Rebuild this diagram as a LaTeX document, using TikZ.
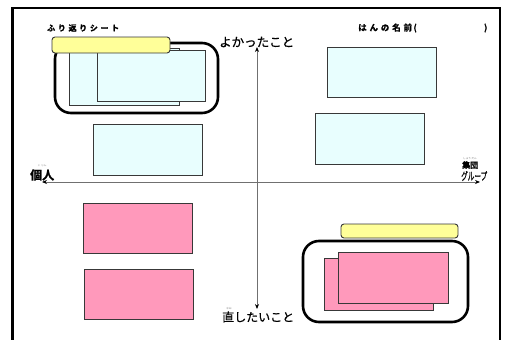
\documentclass[tikz,border=0pt]{standalone}
\usepackage{fontspec}
\setmainfont{Noto Sans CJK JP}
\newfontfamily\jpb[FakeBold=1.6]{Noto Sans CJK JP Bold}
\newfontfamily\jp{Noto Sans CJK JP}
\newfontfamily\jpm[FakeBold=0.6]{Noto Sans CJK JP}
\usetikzlibrary{arrows.meta}
\definecolor{cardblue}{HTML}{E8FEFE}
\definecolor{cardpink}{HTML}{FF99BB}
\definecolor{tagyellow}{HTML}{FFFF99}
\definecolor{axisgray}{HTML}{707070}
\definecolor{edgegray}{HTML}{383838}
\tikzset{
  card/.style={draw=edgegray, line width=0.9pt},
  bluecard/.style={card, fill=cardblue},
  pinkcard/.style={card, fill=cardpink},
  tag/.style={draw=edgegray, line width=0.9pt, fill=tagyellow, rounded corners=3pt},
  group/.style={draw=black, line width=2.6pt, rounded corners=16pt},
  axis/.style={draw=axisgray, line width=0.8pt, {Stealth[length=5pt,width=4pt,color=black]}-{Stealth[length=5pt,width=4pt,color=black]}},
  lbl/.style={inner sep=0pt, anchor=west},
  ruby/.style={inner sep=0pt, font=\jp\fontsize{2.6}{3}\selectfont, text=gray}
}
\begin{document}
\begin{tikzpicture}[x=1pt,y=-1pt]
\useasboundingbox[fill=white] (0,0) rectangle (507,340);
% frame
\draw[line width=3pt] (12,345) -- (12,7.5);
\draw[line width=2pt] (11,7.5) -- (500,7.5) -- (500,345);
% headings
\node[lbl, font=\jpb\fontsize{8}{9}\selectfont] (title) at (47,28) {ふ\,\,り\,\,返\,\,り\,\,シ\,\,ー\,\,ト};
\node[lbl, font=\jpb\fontsize{8.5}{9}\selectfont] (han) at (358,28) {は\,\,ん\,\,の\,\,名\,\,前\,(};
\node[lbl, font=\jpb\fontsize{8.5}{9}\selectfont] (hanend) at (484,28) {)};
% axes
\coordinate (vtop) at (257,47);
\coordinate (vbot) at (257,309);
\coordinate (hleft) at (42,182);
\coordinate (hright) at (480,182);
\draw[axis] (vtop) -- (vbot);
\draw[axis] (hleft) -- (hright);
% axis labels
\node[lbl, font=\jpm\fontsize{12.5}{13}\selectfont] (good) at (219,42) {よかったこと};
\node[lbl, font=\jpm\fontsize{12}{13}\selectfont] (fix) at (222,317) {直したいこと};
\node[ruby] (fixruby) at (229,309) {なお};
\node[lbl, font=\jpb\fontsize{12}{13}\selectfont] (kojin) at (30,175) {個人};
\node[ruby] (kojinruby) at (42,166) {こ\ \ じん};
\node[lbl, font=\jpb\fontsize{8}{9}\selectfont] (shudan) at (462,165) {集団};
\node[ruby] (shudanruby) at (470,158.5) {しゅう\ だん};
\node[lbl, font=\jpm\fontsize{11}{12}\selectfont] (group) at (461,176) {\scalebox{0.6}[1]{グループ}};
% top-left group
\draw[group] (55,43) rectangle (218,113);
\node[bluecard, minimum width=110pt, minimum height=57pt, inner sep=0pt] (tl1) at (124,76.5) {};
\node[bluecard, minimum width=108pt, minimum height=51pt, inner sep=0pt] (tl2) at (151,75.5) {};
\node[tag, minimum width=118pt, minimum height=16pt, inner sep=0pt] (tltag) at (111,45) {};
% other blue cards
\node[bluecard, minimum width=109pt, minimum height=50pt, inner sep=0pt] (tr1) at (381.5,72) {};
\node[bluecard, minimum width=109pt, minimum height=51pt, inner sep=0pt] (tr2) at (369.5,138.5) {};
\node[bluecard, minimum width=109pt, minimum height=51pt, inner sep=0pt] (ml) at (147.5,149.5) {};
% pink cards left
\node[pinkcard, minimum width=109pt, minimum height=50pt, inner sep=0pt] (bl1) at (137.5,228) {};
\node[pinkcard, minimum width=109pt, minimum height=50pt, inner sep=0pt] (bl2) at (138.5,294) {};
% bottom-right group
\node[tag, minimum width=117pt, minimum height=14pt, inner sep=0pt] (brtag) at (399.5,231) {};
\draw[group] (303,241) rectangle (468,322);
\node[pinkcard, minimum width=109pt, minimum height=52pt, inner sep=0pt] (br1) at (378.5,284) {};
\node[pinkcard, minimum width=110pt, minimum height=51pt, inner sep=0pt] (br2) at (393,277.5) {};
\end{tikzpicture}
\end{document}
